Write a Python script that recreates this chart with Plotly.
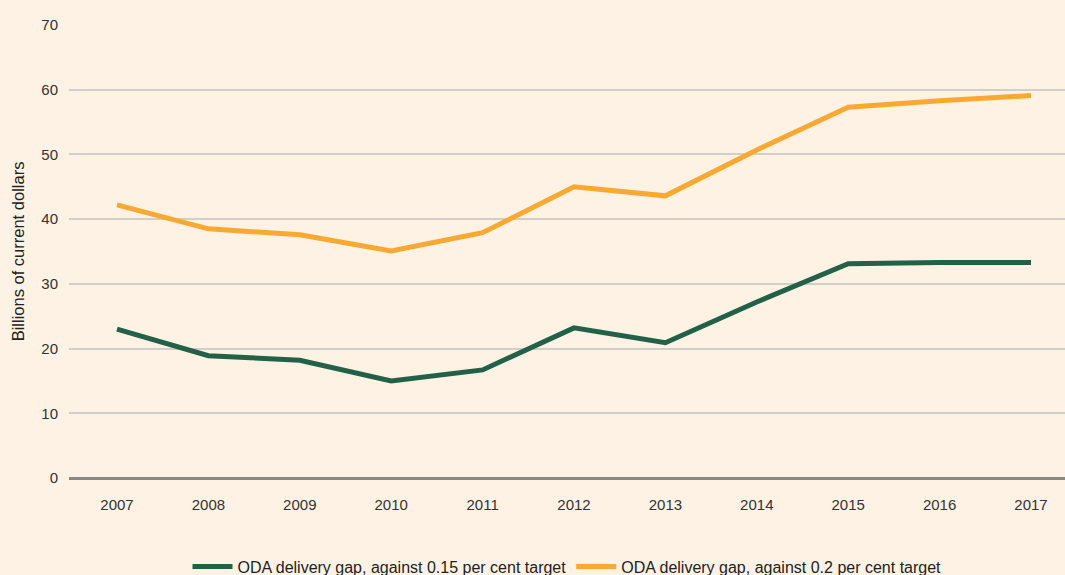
import plotly.graph_objects as go

years = [2007, 2008, 2009, 2010, 2011, 2012, 2013, 2014, 2015, 2016, 2017]
gap_015 = [23.0, 18.9, 18.2, 15.0, 16.7, 23.2, 20.9, 27.2, 33.1, 33.3, 33.3]
gap_02 = [42.2, 38.5, 37.6, 35.1, 37.9, 45.0, 43.6, 50.7, 57.3, 58.3, 59.1]
series_names = ["ODA delivery gap, against 0.15 per cent target",
                "ODA delivery gap, against 0.2 per cent target"]
y_ticks = [0, 10, 20, 30, 40, 50, 60, 70]

FONT = "Liberation Sans, Arial, sans-serif"
BG = "#FDF2E3"

fig = go.Figure()
fig.add_trace(go.Scatter(x=years, y=gap_015, mode="lines", name=series_names[0],
                         line=dict(color="#236048", width=5)))
fig.add_trace(go.Scatter(x=years, y=gap_02, mode="lines", name=series_names[1],
                         line=dict(color="#F9A932", width=5)))

fig.update_layout(
    width=1065, height=575,
    paper_bgcolor=BG, plot_bgcolor=BG,
    margin=dict(l=69, r=0, t=25, b=97, autoexpand=False),
    font=dict(family=FONT, color="#333333", size=15),
    showlegend=True,
    legend=dict(orientation="h", x=0.5, xanchor="center", y=-0.233, yanchor="bottom",
                font=dict(size=16, color="#222222"), bgcolor="rgba(0,0,0,0)",
                itemwidth=40, tracegroupgap=0),
    xaxis=dict(range=[2006.475, 2017.372], tickvals=years, ticktext=[str(y) for y in years],
               showgrid=False, zeroline=False, showline=False, ticks="", ticklen=0,
               ticklabelstandoff=16,
               tickfont=dict(size=15, color="#333333")),
    yaxis=dict(range=[0, 70], tickvals=y_ticks, showgrid=True, gridcolor="#D3CEC8",
               gridwidth=1.5, zeroline=True, zerolinecolor="#8A8886", zerolinewidth=3,
               showline=False, ticks="", tickfont=dict(size=15, color="#333333"),
               ticklabelstandoff=10,
               title=dict(text="Billions of current dollars", font=dict(size=16.5, color="#222222"),
                          standoff=12)),
)

fig.write_html("out.html", config={"displayModeBar": False},
               post_script="document.body.style.margin='0';document.body.style.background='#FDF2E3';")
